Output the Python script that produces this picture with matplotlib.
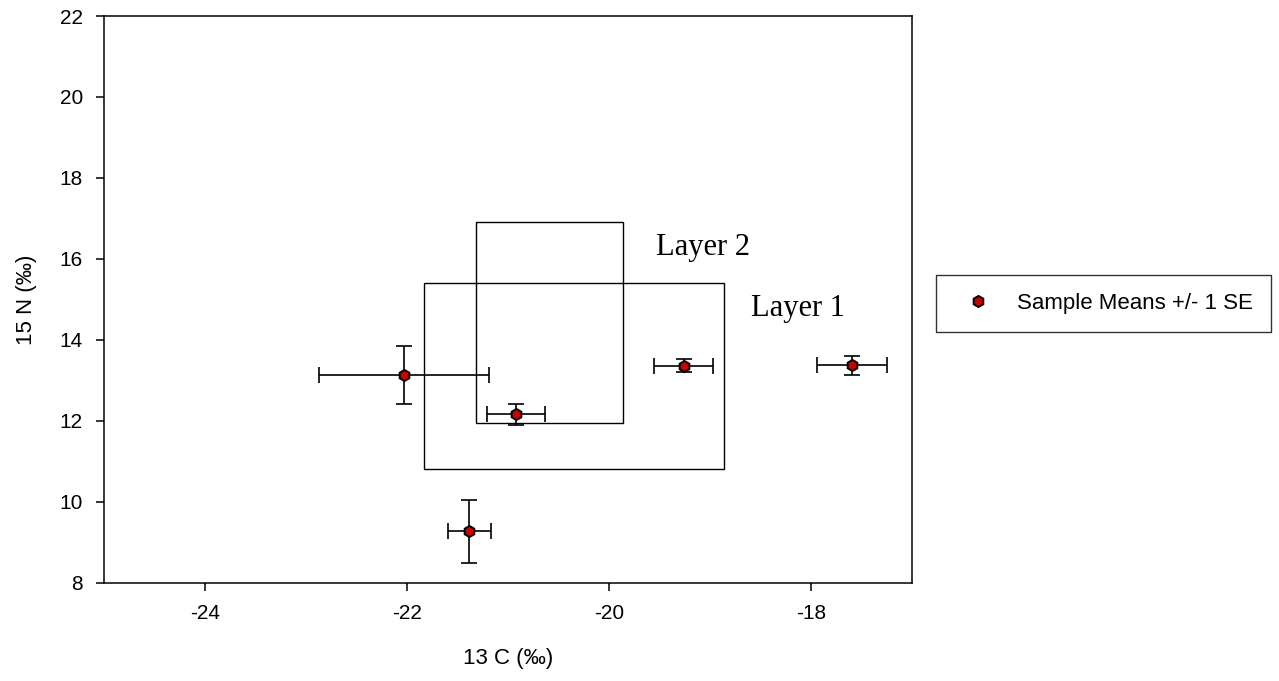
import matplotlib.pyplot as plt
from matplotlib.patches import Rectangle

plt.rcParams['font.family'] = ['Liberation Sans', 'DejaVu Sans']
plt.rcParams['axes.unicode_minus'] = False

# Sample means (13C, 15N) and their standard errors
c13 = [-22.03, -20.92, -21.38, -19.26, -17.59]
n15 = [13.14, 12.16, 9.28, 13.36, 13.37]
c13_se = [0.84, 0.285, 0.21, 0.29, 0.345]
n15_se = [0.71, 0.26, 0.78, 0.16, 0.23]

# Layer boxes: (x min, x max, y min, y max)
layer_names = ['Layer 1', 'Layer 2']
layer_boxes = [(-21.83, -18.86, 10.81, 15.41),
               (-21.31, -19.86, 11.94, 16.91)]
layer_label_pos = [(-18.59, 14.58), (-19.53, 16.10)]

xticks = [-24, -22, -20, -18]
yticks = [8, 10, 12, 14, 16, 18, 20, 22]

fig = plt.figure(figsize=(12.79, 6.81), dpi=100)
ax = fig.add_axes([0.081, 0.144, 0.632, 0.8325])

ax.errorbar(c13, n15, xerr=c13_se, yerr=n15_se, fmt='none', ecolor='black',
            elinewidth=1.2, capsize=6, capthick=1.2, zorder=2)
ax.plot(c13, n15, 'h', color='#cc0000', markeredgecolor='black',
        markeredgewidth=1.4, markersize=8, linestyle='none', zorder=3,
        label='Sample Means +/- 1 SE')

for (x0, x1, y0, y1), name, (tx, ty) in zip(layer_boxes, layer_names, layer_label_pos):
    ax.add_patch(Rectangle((x0, y0), x1 - x0, y1 - y0, fill=False,
                           edgecolor='black', linewidth=1.0, zorder=1))
    ax.text(tx, ty, name, fontsize=22, family=['Liberation Serif', 'DejaVu Serif'],
            va='baseline', ha='left')

ax.set_xlim(-25, -17)
ax.set_ylim(8, 22)
ax.set_xticks(xticks)
ax.set_yticks(yticks)
ax.tick_params(direction='out', length=6, width=1.1, labelsize=15, pad=9)
for s in ax.spines.values():
    s.set_linewidth(1.1)

ax.set_xlabel('13 C (‰)', fontsize=16, labelpad=18)
ax.set_ylabel('15 N (‰)', fontsize=16, labelpad=16)

leg = fig.legend(loc='center left', bbox_to_anchor=(0.732, 0.554), fontsize=16,
                 frameon=True, fancybox=False, edgecolor='black', borderpad=0.8,
                 handlelength=2.15, handletextpad=0.68, borderaxespad=0)
leg.get_frame().set_linewidth(1.0)

fig.savefig('out.png', dpi=100)
